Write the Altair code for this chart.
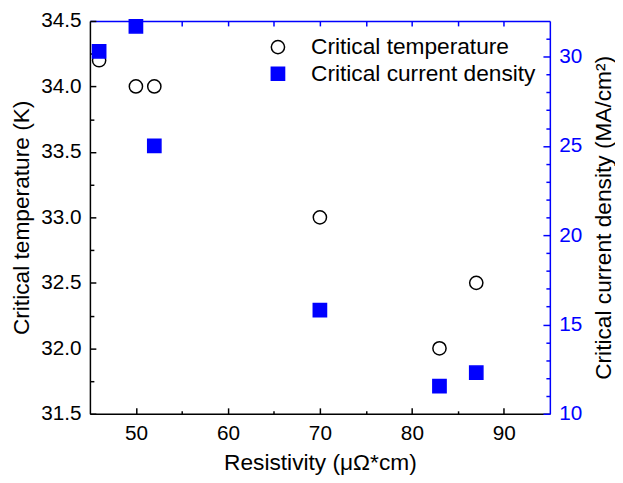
import altair as alt
import pandas as pd

# ---- data ----
resistivity = [46, 50, 52, 70, 83, 87]
tc_values = [34.2, 34.0, 34.0, 33.0, 32.0, 32.5]
jc_values = [30.3, 31.7, 25.0, 15.8, 11.55, 12.3]
series = ["Critical temperature", "Critical current density"]

x_domain = [45, 95]
tc_domain = [31.5, 34.5]
jc_domain = [10, 32]
x_major = [50, 60, 70, 80, 90]
x_minor = [55, 65, 75, 85]
tc_major = [31.5, 32.0, 32.5, 33.0, 33.5, 34.0, 34.5]
tc_minor = [31.75, 32.25, 32.75, 33.25, 33.75, 34.25]
jc_major = [10, 15, 20, 25, 30]
jc_minor = [11, 12, 13, 14, 16, 17, 18, 19, 21, 22, 23, 24, 26, 27, 28, 29, 31]

W, H = 466, 398
FONT = "Liberation Sans"
BLUE = "#0000ff"
LABEL_SIZE = 21
TITLE_SIZE = 23

df_tc = pd.DataFrame({"r": resistivity, "v": tc_values, "s": series[0]})
df_jc = pd.DataFrame({"r": resistivity, "v": jc_values, "s": series[1]})

xs = alt.Scale(domain=x_domain, nice=False, zero=False)
tcs = alt.Scale(domain=tc_domain, nice=False, zero=False)
jcs = alt.Scale(domain=jc_domain, nice=False, zero=False)

legend = alt.Legend(title=None, orient="none", legendX=179, legendY=15,
                    labelFontSize=TITLE_SIZE, labelFont=FONT, labelColor="black",
                    labelLimit=500, symbolSize=180, symbolStrokeWidth=1.5,
                    labelOffset=22, rowPadding=3, padding=0)

legend_enc = dict(
    shape=alt.Shape("s:N", scale=alt.Scale(domain=series, range=["circle", "square"]), legend=legend),
    fill=alt.Fill("s:N", scale=alt.Scale(domain=series, range=["transparent", BLUE]), legend=legend),
    stroke=alt.Stroke("s:N", scale=alt.Scale(domain=series, range=["black", BLUE]), legend=legend),
)

common_axis = dict(grid=False, labelFont=FONT, titleFont=FONT, labelFontSize=LABEL_SIZE,
                   titleFontSize=TITLE_SIZE, titleFontWeight="normal")

bottom_axis = alt.Axis(orient="bottom", title="Resistivity (μΩ*cm)", values=x_major,
                       ticks=False, tickSize=0, labelPadding=9, titlePadding=8,
                       domainColor="black", domainWidth=1.5, labelColor="black",
                       titleColor="black", **common_axis)
left_axis = alt.Axis(orient="left", title="Critical temperature (K)", values=tc_major,
                     ticks=False, tickSize=0, labelPadding=9, titlePadding=7,
                     domainColor="black", domainWidth=1.5, labelColor="black",
                     titleColor="black", format=".1f", **common_axis)
top_axis = alt.Axis(orient="top", title=None, labels=False, ticks=False, tickSize=0,
                    domainColor=BLUE, domainWidth=1.5, grid=False)
right_axis = alt.Axis(orient="right", title="Critical current density (MA/cm²)", values=jc_major,
                      ticks=False, tickSize=0, labelPadding=9, titlePadding=11,
                      domainColor=BLUE, domainWidth=1.5, labelColor=BLUE,
                      titleColor="black", titleAngle=270, titleBaseline="top", **common_axis)

layer_tc = alt.Chart(df_tc).mark_point(size=180, strokeWidth=1.5, opacity=1).encode(
    x=alt.X("r:Q", scale=xs, axis=bottom_axis),
    y=alt.Y("v:Q", scale=tcs, axis=left_axis),
    **legend_enc,
)
layer_jc = alt.Chart(df_jc).mark_point(size=180, strokeWidth=1.5, opacity=1).encode(
    x=alt.X("r:Q", scale=xs, axis=top_axis),
    y=alt.Y("v:Q", scale=jcs, axis=right_axis),
    **legend_enc,
)


def tick_layer(df, yscale, xorient, yorient, xvals, yvals, xsize, ysize, color):
    xa = alt.Axis(orient=xorient, offset=-H, domain=False, labels=False, title=None,
                  values=xvals, tickSize=xsize, tickColor=color, tickWidth=1.5, grid=False)
    ya = alt.Axis(orient=yorient, offset=-W, domain=False, labels=False, title=None,
                  values=yvals, tickSize=ysize, tickColor=color, tickWidth=1.5, grid=False)
    return alt.Chart(df).mark_point(opacity=0).encode(
        x=alt.X("r:Q", scale=xs, axis=xa),
        y=alt.Y("v:Q", scale=yscale, axis=ya),
    )


t1 = tick_layer(df_tc, tcs, "top", "right", x_major, tc_major, 6, 6, "black")
t2 = tick_layer(df_tc, tcs, "top", "right", x_minor, tc_minor, 3, 4, "black")
t3 = tick_layer(df_jc, jcs, "bottom", "left", x_major, jc_major, 5, 7, BLUE)
t4 = tick_layer(df_jc, jcs, "bottom", "left", x_minor, jc_minor, 5, 4, BLUE)

chart = alt.layer(t1, t2, t3, t4, layer_tc, layer_jc).resolve_scale(
    y="independent"
).resolve_axis(
    x="independent", y="independent"
).properties(
    width=W, height=H,
    autosize=alt.AutoSizeParams(type="none"),
    padding={"left": 83, "top": 10, "right": 66, "bottom": 66},
).configure_view(stroke=None).configure(background="white")

chart.save("out.html", embed_options={"renderer": "svg", "actions": False})
